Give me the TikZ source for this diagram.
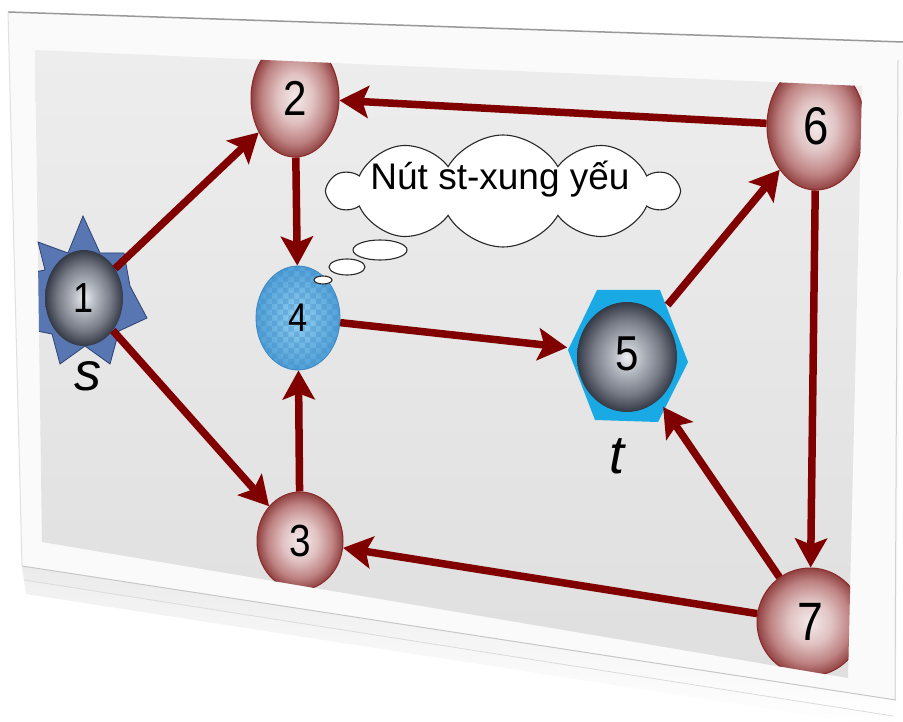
\documentclass[tikz,border=0pt]{standalone}
\usepackage{fontspec}
\setmainfont{Liberation Sans}
\newfontfamily\numfont[FakeStretch=0.86]{Liberation Sans}
\usetikzlibrary{arrows.meta,shapes.geometric,shapes.symbols,patterns}
\definecolor{edgered}{RGB}{128,0,0}
\definecolor{rn0}{RGB}{244,234,234}
\definecolor{rn1}{RGB}{225,195,195}
\definecolor{rn2}{RGB}{190,130,130}
\definecolor{rn3}{RGB}{145,65,65}
\definecolor{rnline}{RGB}{140,40,40}
\definecolor{mt0}{RGB}{236,238,242}
\definecolor{mt1}{RGB}{182,186,194}
\definecolor{mt2}{RGB}{118,123,134}
\definecolor{mt3}{RGB}{52,57,70}
\definecolor{panelA}{RGB}{237,237,237}
\definecolor{panelB}{RGB}{223,223,223}
\definecolor{starblue}{RGB}{88,118,178}
\definecolor{starline}{RGB}{45,65,115}
\definecolor{hexcyan}{RGB}{25,170,230}
\definecolor{blA}{RGB}{150,210,242}
\definecolor{blB}{RGB}{80,160,215}
\definecolor{blline}{RGB}{60,135,195}
\definecolor{cardface}{RGB}{250,250,250}
\definecolor{cloudline}{RGB}{40,40,40}
\pgfdeclareradialshading{redball}{\pgfpoint{0bp}{0bp}}{color(0bp)=(rn0); color(10bp)=(rn1); color(19bp)=(rn2); color(25bp)=(rn3); color(50bp)=(rn3)}
\pgfdeclareradialshading{metalball}{\pgfpoint{0bp}{0bp}}{color(0bp)=(mt0); color(7bp)=(mt1); color(17bp)=(mt2); color(25bp)=(mt3); color(50bp)=(mt3)}
\tikzset{
  rnode/.style={ellipse, inner sep=0pt, shade, shading=redball, draw=rnline, line width=1pt, text=black},
  mnode/.style={ellipse, inner sep=0pt, shade, shading=metalball, text=black},
  link/.style={draw=edgered, line width=7.5pt, -{Stealth[length=29pt,width=32pt,inset=6pt]}},
  fsz/.style={font=\numfont\fontsize{#1}{#1}\selectfont},
  lbl/.style={font=\itshape\fontsize{54}{56}\selectfont, anchor=base, inner sep=0pt},
  bubble/.style={draw=cloudline, line width=1.1pt, fill=white},
}
\begin{document}
\begin{tikzpicture}[x=1pt,y=-1pt]
\useasboundingbox (0,0) rectangle (903,722);
\fill[white] (0,0) rectangle (903,722);
% card shadow
\shade[top color=black!6, bottom color=white] (24,580) -- (893,716) -- (893,728) -- (26,594) -- cycle;
% slab front face
\shade[top color=black!8, bottom color=white] (22,566) -- (896,700) -- (893,716) -- (24,580) -- cycle;
\draw[black!14, line width=0.8pt] (24,580) -- (893,716);
% card top face
\fill[cardface] (8,12) -- (903,42) -- (896,700) -- (22,566) -- cycle;
\draw[black!40, line width=1.5pt] (8,12) -- (903,42);
\draw[black!12, line width=1pt] (8,12) -- (22,566);
\draw[black!22, line width=1pt] (896,700) -- (22,566);
\draw[black!18, line width=1pt] (898,60) -- (895,700);
% grey panel
\shade[top color=panelA, bottom color=panelB] (35,50) -- (862,86) -- (848,678) -- (42,542) -- cycle;
% hexagon + sphere of node 5
\fill[hexcyan] (568,350) -- (597,290) -- (660,290) -- (688,362) -- (658,422) -- (595,420) -- cycle;
\shade[shading=metalball] (627,357) ellipse [x radius=50, y radius=55];
\node[ellipse, minimum width=120pt, minimum height=132pt, inner sep=0pt, fsz=49] (n5) at (627,354) {5};
% clipped nodes
\begin{scope}
\clip (35,50) -- (862,86) -- (848,678) -- (42,542) -- cycle;
\fill[starblue, draw=starline, line width=0.8pt] (83,216) -- (100,253) -- (124,253) -- (130,286) -- (147,318) -- (119,331) -- (110,364) -- (85,346) -- (60,364) -- (52,334) -- (22,328) -- (36,298) -- (20,275) -- (45,270) -- (38,242) -- (68,253) -- cycle;
\node[mnode, minimum width=78pt, minimum height=96pt, fsz=42] (n1) at (84,298) {1};
\node[rnode, minimum width=88pt, minimum height=118pt, fsz=49] (n2) at (295,98) {2};
\node[rnode, minimum width=86pt, minimum height=98pt, fsz=45] (n3) at (300,541) {3};
\node[rnode, minimum width=98pt, minimum height=128pt, fsz=53] (n6) at (816,126) {6};
\node[rnode, minimum width=106pt, minimum height=108pt, fsz=54] (n7) at (810,622) {7};
\end{scope}
% node 4
\node[ellipse, inner sep=0pt, minimum width=84pt, minimum height=104pt, shade, inner color=blA, outer color=blB, draw=blline, line width=0.8pt, postaction={pattern=checkerboard, pattern color=blline, fill opacity=0.35}, fsz=40] (n4) at (298,318) {4};
% labels s, t
\node[lbl] (slabel) at (88,390) {s};
\node[lbl] (tlabel) at (617,473) {t};
% connectors
\draw[link] (n1) -- (n2);
\draw[link] (n1) -- (n3);
\draw[link] (n2) -- (n4);
\draw[link] (n3) -- (n4);
\draw[link] (n4) -- (n5);
\draw[link] (n5) -- (n6);
\draw[link] (n6) -- (n2);
\draw[link] (n6) -- (n7);
\draw[link] (n7) -- (n5);
\draw[link] (n7) -- (n3);
% thought cloud
\node[cloud, cloud puffs=10, cloud puff arc=120, cloud ignores aspect, minimum width=347pt, minimum height=112pt, inner sep=0pt, bubble] (cloud) at (503,191) {};
\node[font=\fontsize{37}{40}\selectfont, anchor=base, inner sep=0pt] (ctext) at (500,190) {Nút st-xung yếu};
\draw[bubble] (380,250) ellipse [x radius=27, y radius=10];
\draw[bubble] (347,267) ellipse [x radius=18, y radius=8];
\draw[bubble] (323,280) ellipse [x radius=9, y radius=4];
\end{tikzpicture}
\end{document}
